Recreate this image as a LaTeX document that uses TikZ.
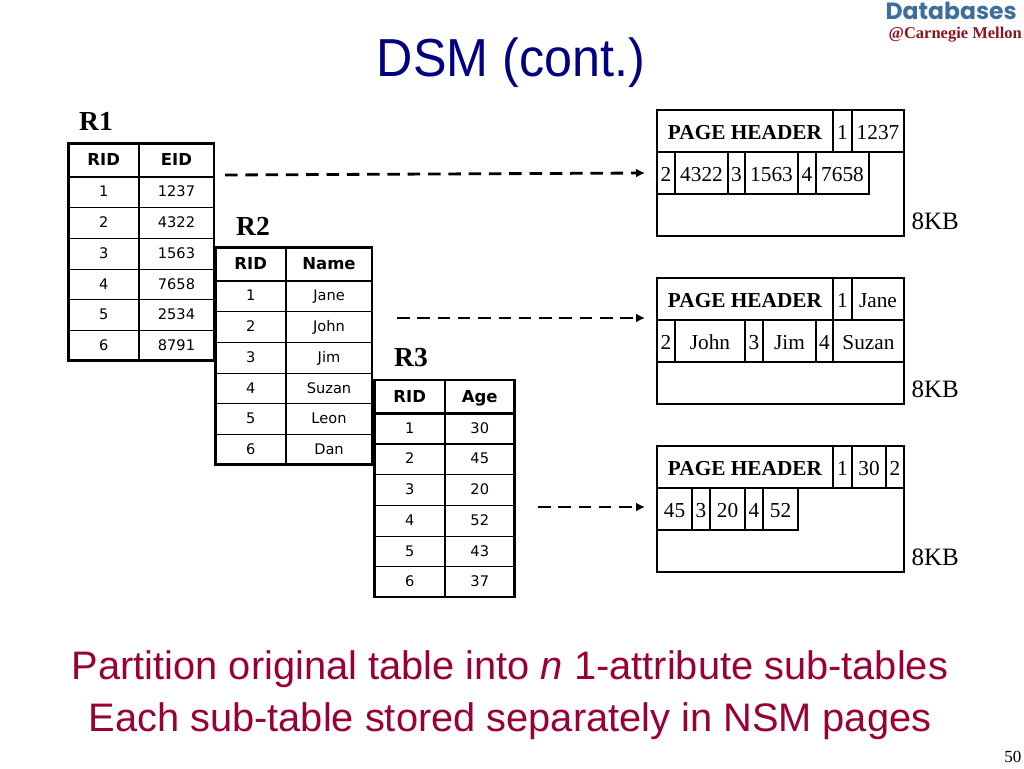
\documentclass[tikz,border=0pt]{standalone}
\usepackage{fontspec}
\setmainfont{Liberation Serif}
\newfontfamily\arialfont{Liberation Sans}
\newfontfamily\titlefont[FakeStretch=0.94]{Liberation Sans}
\newfontfamily\verdfont{DejaVu Sans}
\newfontfamily\logofont{Poppins}
\usetikzlibrary{arrows.meta,calc,positioning}
\definecolor{TitleBlue}{RGB}{0,0,128}
\definecolor{NoteRed}{RGB}{153,0,51}
\definecolor{LogoBlue}{RGB}{62,110,158}
\definecolor{LogoRed}{RGB}{140,20,30}
\tikzset{
  relname/.style={font=\fontsize{27.5}{27.5}\selectfont\bfseries},
  headtxt/.style={font=\verdfont\fontsize{16.5}{16.5}\selectfont\bfseries,text height=11pt,text depth=0pt,inner sep=0pt},
  rowtxt/.style={font=\verdfont\fontsize{14.6}{14.6}\selectfont,text height=10.5pt,text depth=0pt,inner sep=0pt},
  pagetxt/.style={font=\fontsize{21.3}{21.3}\selectfont,text height=14pt,text depth=0pt,inner sep=0pt},
  sizetxt/.style={font=\fontsize{25}{25}\selectfont},
  notetxt/.style={font=\arialfont\fontsize{39.8}{39.8}\selectfont,text=NoteRed},
  moveto/.style={-{Latex[length=9pt,width=9pt]},line width=2.8pt,dash pattern=on 12.5pt off 7.8pt},
}
\newcommand{\reltable}[7]{
\draw[line width=2.8pt] (#2,#5) rectangle (#4,#5+217);
\draw[line width=2.8pt] (#2,#5+33.3) -- (#4,#5+33.3);
\draw[line width=1.1pt] (#3,#5) -- (#3,#5+217);
\foreach \k in {1,...,5}{\draw[line width=1.1pt] (#2,{#5+33.3+30.7*\k}) -- (#4,{#5+33.3+30.7*\k});}
\node[headtxt] (#1rid) at ({(#2+#3)/2},#5+16.5){RID};
\node[headtxt] (#1col) at ({(#3+#4)/2},#5+16.5){#6};
\foreach \v [count=\i] in {#7}{
  \node[rowtxt] (#1rid\i) at ({(#2+#3)/2},{#5+48+30.7*(\i-1)}){\i};
  \node[rowtxt] (#1val\i) at ({(#3+#4)/2},{#5+48+30.7*(\i-1)}){\v};
}
}
\newcommand{\nsmpage}[4]{
\draw[line width=1.6pt] (657,#2) rectangle (904,#2+126);
\foreach \a/\b/\t [count=\i] in {#3}{\draw[line width=1.1pt] (\a,#2) rectangle (\b,#2+42);\node[pagetxt] (#1h\i) at ({(\a+\b)/2},#2+22){\t};}
\foreach \a/\b/\t [count=\i] in {#4}{\draw[line width=1.1pt] (\a,#2+42) rectangle (\b,#2+84);\node[pagetxt] (#1c\i) at ({(\a+\b)/2},#2+64){\t};}
\node[sizetxt,anchor=west] (#1size) at (908,#2+111){8KB};
}
\begin{document}
\begin{tikzpicture}[x=1pt,y=-1pt]
\useasboundingbox (0,0) rectangle (1024,768);
\node[font=\titlefont\fontsize{53.5}{53.5}\selectfont,text=TitleBlue] (title) at (511,63){DSM (cont.)};
\node[font=\logofont\fontsize{23.5}{23.5}\selectfont\bfseries,text=LogoBlue,anchor=east,inner sep=0pt,text depth=0pt,text height=17pt] (logotop) at (1017,11){Databases};
\node[font=\fontsize{16.5}{16.5}\selectfont\bfseries,text=LogoRed,anchor=east,inner sep=0pt,text depth=3pt,text height=11pt] (logobot) at (1022,34){@Carnegie Mellon};
% sub-tables
\node[relname] (r1) at (96,121){R1};
\node[relname] (r2) at (253,226){R2};
\node[relname] (r3) at (411,358){R3};
\reltable{a}{68.5}{139}{214}{143.7}{EID}{1237,4322,1563,7658,2534,8791}
\reltable{b}{215.5}{286}{372}{247.7}{Name}{Jane,John,Jim,Suzan,Leon,Dan}
\reltable{c}{374.5}{445}{514.5}{380}{Age}{30,45,20,52,43,37}
% pages
\nsmpage{p}{110}{657/833/{\bfseries PAGE HEADER},833/852/1,852/904/1237}{657/675/2,675/728/4322,728/745/3,745/798/1563,798/816/4,816/869/7658}
\nsmpage{q}{278}{657/833/{\bfseries PAGE HEADER},833/852/1,852/904/Jane}{657/675/2,675/745/John,745/763/3,763/816/Jim,816/833/4,833/904/Suzan}
\nsmpage{s}{446}{657/833/{\bfseries PAGE HEADER},833/852/1,852/886/30,886/904/2}{657/692/45,692/710/3,710/745/20,745/763/4,763/798/52}
% arrows
\coordinate (aout) at (225,175);
\coordinate (pin) at (645,173);
\coordinate (bout) at (397,318);
\coordinate (qin) at (645,318);
\coordinate (cout) at (538,507);
\coordinate (sin) at (645,507);
\draw[moveto] (aout) -- (pin);
\draw[moveto] (bout) -- (qin);
\draw[moveto] (cout) -- (sin);
% text below
\node[notetxt] (note1) at (510,669){Partition original table into \textit{n} 1-attribute sub-tables};
\node[notetxt] (note2) at (510,721){Each sub-table stored separately in NSM pages};
\node[font=\fontsize{17}{17}\selectfont,anchor=east] (pageno) at (1025,757){50};
\end{tikzpicture}
\end{document}
